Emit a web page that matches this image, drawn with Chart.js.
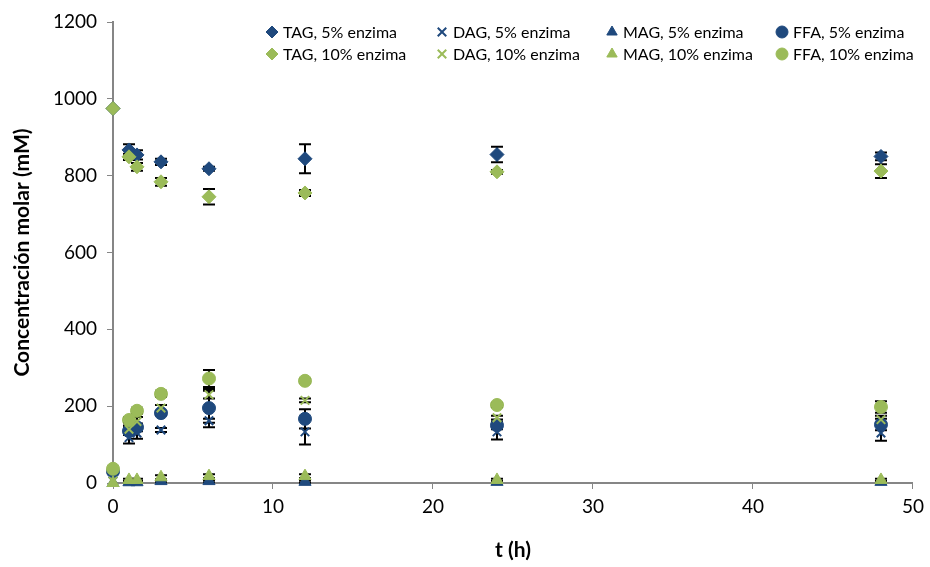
<!DOCTYPE html>
<html>
<head>
<meta charset="utf-8">
<script src="https://cdn.jsdelivr.net/npm/chart.js@4.4.1/dist/chart.umd.min.js"></script>
<style>
  html, body { margin: 0; padding: 0; background: #fff; }
  #wrap { width: 930px; height: 567px; }
</style>
</head>
<body>
<div id="wrap"><canvas id="myChart" width="930" height="567"></canvas></div>
<script>
// sampling times (h)
const tiempos = [0, 1, 1.5, 3, 6, 12, 24, 48];

// 5% enzima
const tag5 = [975, 867, 854, 836, 818, 844, 855, 850];
const dag5 = [5, 118, 130, 138, 162, 133, 133, 130];
const mag5 = [0, 2, 2, 5, 5, 3, 3, 3];
const ffa5 = [30, 135, 145, 182, 195, 167, 150, 152];

// 10% enzima
const tag10 = [975, 849, 823, 784, 745, 755, 810, 812];
const dag10 = [5, 140, 160, 195, 230, 215, 170, 165];
const mag10 = [0, 8, 8, 15, 18, 18, 8, 8];
const ffa10 = [37, 164, 188, 232, 272, 266, 203, 198];

// standard deviations
const tag5Err = [0, 15, 12, 8, 5, 38, 20, 10];
const dag5Err = [0, 15, 15, 5, 5, 33, 20, 20];
const mag5Err = [0, 2, 2, 3, 3, 3, 2, 2];
const ffa5Err = [0, 10, 10, 5, 50, 25, 10, 15];
const tag10Err = [0, 8, 10, 10, 20, 8, 5, 18];
const dag10Err = [0, 10, 12, 8, 10, 5, 5, 10];
const mag10Err = [0, 3, 3, 5, 5, 5, 3, 3];
const ffa10Err = [0, 8, 8, 8, 22, 5, 5, 15];

const AZUL = 'rgb(31, 73, 125)';
const VERDE = 'rgb(155, 187, 89)';

function serie(label, values, err, color, style, r, order) {
    return {
        label: label,
        data: tiempos.map((t, i) => ({ x: t, y: values[i] })),
        err: err,
        order: order,
        clip: false,
        showLine: false,
        pointStyle: style,
        pointRadius: r,
        pointHoverRadius: r,
        backgroundColor: color,
        borderColor: color,
        borderWidth: style === 'crossRot' ? 2 : 1
    };
}

// green (10%) series sit on top of the blue ones
const data = {
    datasets: [
        serie('TAG, 5% enzima', tag5, tag5Err, AZUL, 'rectRot', 7, 2),
        serie('DAG, 5% enzima', dag5, dag5Err, AZUL, 'crossRot', 6, 2),
        serie('MAG, 5% enzima', mag5, mag5Err, AZUL, 'triangle', 7, 2),
        serie('FFA, 5% enzima', ffa5, ffa5Err, AZUL, 'circle', 6.5, 2),
        serie('TAG, 10% enzima', tag10, tag10Err, VERDE, 'rectRot', 7, 1),
        serie('DAG, 10% enzima', dag10, dag10Err, VERDE, 'crossRot', 6, 1),
        serie('MAG, 10% enzima', mag10, mag10Err, VERDE, 'triangle', 7, 1),
        serie('FFA, 10% enzima', ffa10, ffa10Err, VERDE, 'circle', 6.5, 1)
    ]
};

// black error bars with caps, behind the markers
const errorBars = {
    id: 'errorBars',
    beforeDatasetsDraw(chart) {
        const ctx = chart.ctx;
        const xs = chart.scales.x, ys = chart.scales.y;
        ctx.save();
        ctx.strokeStyle = '#000';
        ctx.lineWidth = 2;
        chart.data.datasets.forEach(ds => {
            ds.data.forEach((p, i) => {
                const e = ds.err[i];
                if (!e) return;
                const px = xs.getPixelForValue(p.x);
                const top = ys.getPixelForValue(p.y + e);
                const bot = ys.getPixelForValue(Math.max(p.y - e, 0));
                ctx.beginPath();
                ctx.moveTo(px, top); ctx.lineTo(px, bot);
                ctx.moveTo(px - 6, top); ctx.lineTo(px + 6, top);
                ctx.moveTo(px - 6, bot); ctx.lineTo(px + 6, bot);
                ctx.stroke();
            });
        });
        ctx.restore();
    }
};

// two-row legend inside the plot area
const legendaInterna = {
    id: 'legendaInterna',
    afterDraw(chart) {
        const ctx = chart.ctx;
        ctx.save();
        ctx.font = '16px Lato';
        ctx.textBaseline = 'middle';
        chart.data.datasets.forEach((ds, i) => {
            const x = 272 + (i % 4) * 170;
            const y = 32 + Math.floor(i / 4) * 22;
            ctx.fillStyle = ds.backgroundColor;
            ctx.strokeStyle = ds.borderColor;
            ctx.lineWidth = ds.borderWidth;
            Chart.helpers.drawPoint(ctx, { pointStyle: ds.pointStyle, radius: 6, rotation: 0, borderWidth: ds.borderWidth }, x, y);
            ctx.fillStyle = '#000';
            ctx.fillText(ds.label, x + 11, y + 1);
        });
        ctx.restore();
    }
};

const config = {
    type: 'scatter',
    data: data,
    plugins: [errorBars, legendaInterna],
    options: {
        responsive: false,
        animation: false,
        layout: { padding: { top: 22, right: 8, left: 0, bottom: 0 } },
        plugins: {
            legend: { display: false },
            tooltip: { enabled: false }
        },
        scales: {
            x: {
                min: 0,
                max: 50,
                ticks: { stepSize: 10, color: '#000', font: { family: 'Lato', size: 19 }, padding: 6 },
                grid: { drawOnChartArea: false, color: '#868686', tickLength: 6 },
                border: { color: '#868686', width: 2 },
                title: { display: true, text: 't (h)', color: '#000', font: { family: 'Lato', size: 21, weight: 'bold' }, padding: { top: 14 } },
                afterFit: s => { s.height = 84; }
            },
            y: {
                min: 0,
                max: 1200,
                ticks: { stepSize: 200, color: '#000', font: { family: 'Lato', size: 19 }, padding: 10, callback: v => String(v) },
                grid: { drawOnChartArea: false, color: '#868686', tickLength: 6 },
                border: { color: '#868686', width: 2 },
                title: { display: true, text: 'Concentración molar (mM)', color: '#000', font: { family: 'Lato', size: 21, weight: 'bold' }, padding: { top: 10, bottom: 0 } },
                afterFit: s => { s.width = 113; }
            }
        }
    }
};

const ctx = document.getElementById('myChart');
let myChart = new Chart(ctx, config);
</script>
</body>
</html>
